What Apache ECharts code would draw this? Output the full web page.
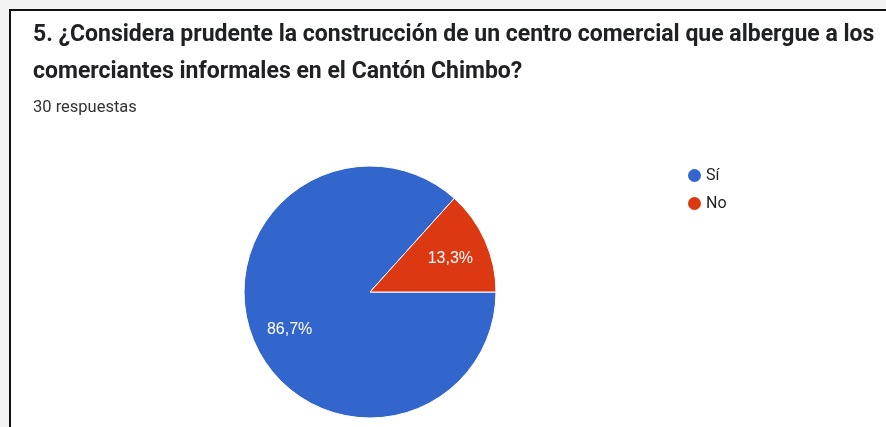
<!DOCTYPE html>
<html>
<head>
<meta charset="utf-8">
<script src="https://cdn.jsdelivr.net/npm/echarts@6/dist/echarts.min.js"></script>
<style>
  html, body { margin: 0; padding: 0; background: #f3f3f3; width: 886px; height: 427px; overflow: hidden; }
  #frame { position: absolute; left: 9px; top: 9px; width: 900px; height: 440px; border-left: 2px solid #111; border-top: 2px solid #111; background: #fff; }
  #chart { position: absolute; left: 0; top: 0; width: 886px; height: 427px; }
</style>
</head>
<body>
<div id="frame"></div>
<div id="chart"></div>
<script>
const titleLines = [
  "5. ¿Considera prudente la construcción de un centro comercial que albergue a los",
  "comerciantes informales en el Cantón Chimbo?"
];
const subtitleText = "30 respuestas";
const categories = ["Sí", "No"];
const counts = [26, 4];
const colors = ["#3366cc", "#dc3912"];

const total = counts.reduce((a, b) => a + b, 0);
const pieData = categories.map((c, i) => ({ name: c, value: counts[i], itemStyle: { color: colors[i] } }));
const labelData = categories.map((c, i) => ({ name: c, value: counts[i] }));

const chart = echarts.init(document.getElementById('chart'), null, { renderer: 'canvas' });
chart.setOption({
  backgroundColor: 'transparent',
  animation: false,
  title: [
    {
      text: titleLines.join("\n"),
      left: 33, top: 17, padding: 0,
      textStyle: { fontFamily: 'Roboto', fontWeight: 'bold', fontSize: 23, lineHeight: 37, color: '#202124' }
    },
    {
      text: subtitleText,
      left: 33, top: 99, padding: 0,
      textStyle: { fontFamily: 'Roboto', fontWeight: 'normal', fontSize: 16.5, color: '#333' }
    }
  ],
  legend: {
    orient: 'vertical',
    left: 681, top: 162,
    padding: 5,
    icon: 'circle',
    itemWidth: 15, itemHeight: 15, itemGap: 11,
    textStyle: { fontFamily: 'Roboto', fontSize: 16, color: '#222', padding: [0, 0, 0, -1] },
    data: categories.map((c, i) => ({ name: c, itemStyle: { color: colors[i] } })),
    selectedMode: false
  },
  series: [
    {
      type: 'pie',
      center: [370, 292],
      radius: [0, 126],
      startAngle: 0,
      clockwise: true,
      avoidLabelOverlap: false,
      silent: true,
      label: { show: false },
      labelLine: { show: false },
      itemStyle: { borderColor: '#fff', borderWidth: 1 },
      emphasis: { disabled: true },
      data: pieData
    },
    {
      type: 'pie',
      center: [370, 292],
      radius: [0, 170],
      startAngle: 0,
      clockwise: true,
      avoidLabelOverlap: false,
      silent: true,
      z: 5,
      itemStyle: { color: 'rgba(0,0,0,0)', borderWidth: 0 },
      label: {
        show: true,
        position: 'inside',
        color: '#fff',
        fontFamily: 'Arial, "Liberation Sans"',
        fontSize: 16,
        offset: [0, 2],
        formatter: p => (p.value / total * 100).toFixed(1).replace('.', ',') + '%'
      },
      labelLine: { show: false },
      emphasis: { disabled: true },
      data: labelData
    }
  ]
});
</script>
</body>
</html>
